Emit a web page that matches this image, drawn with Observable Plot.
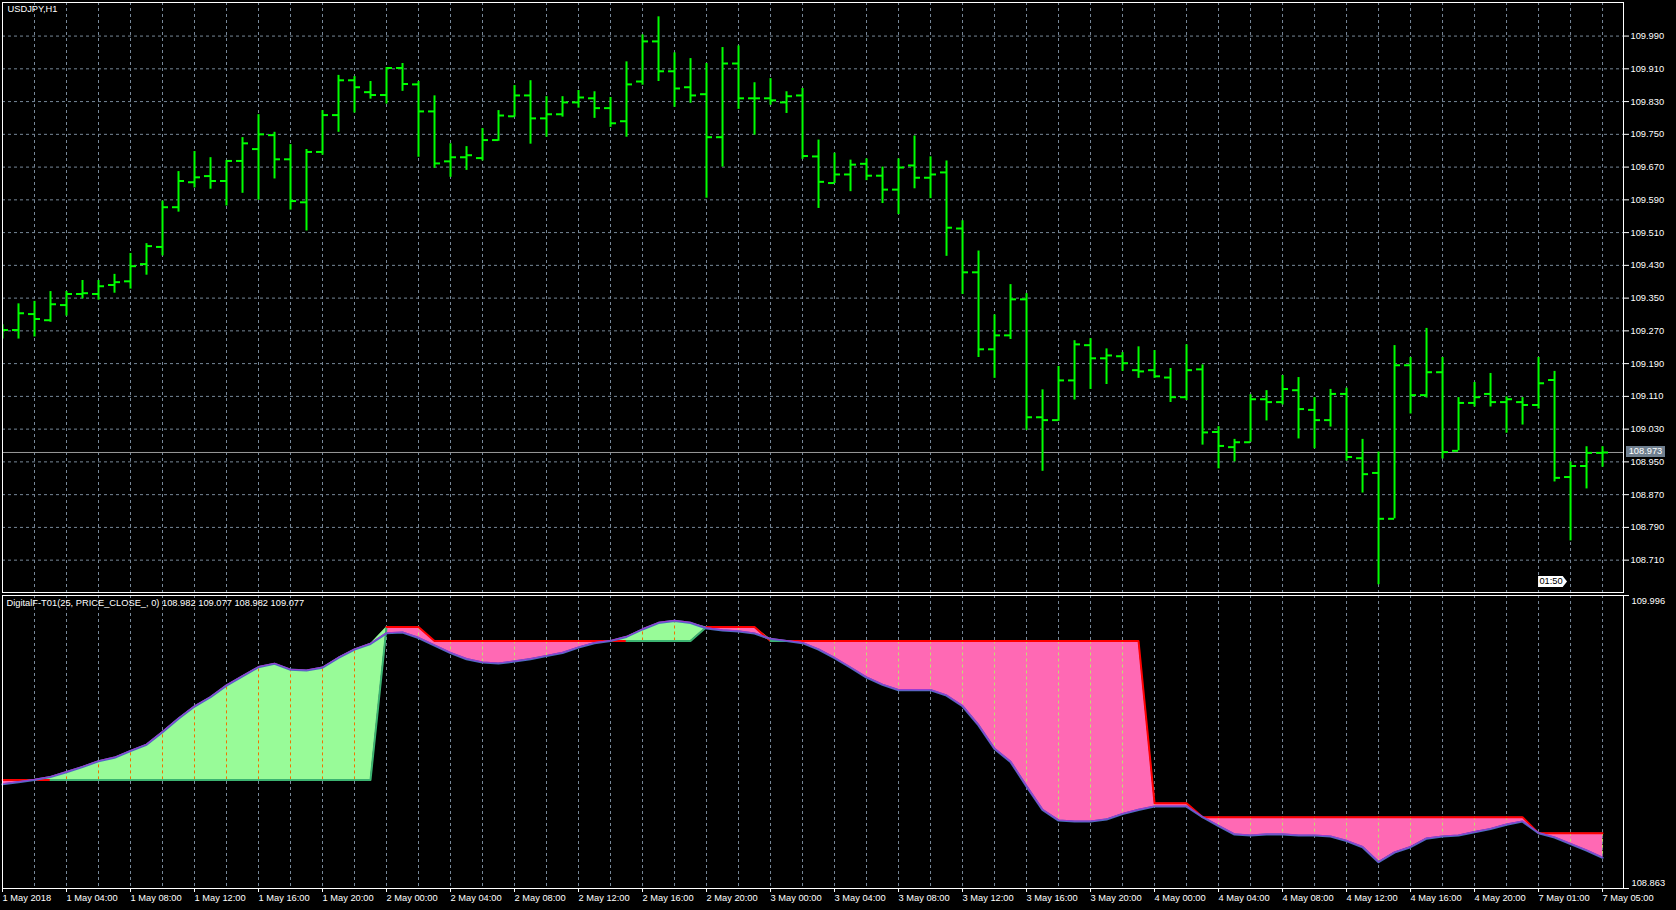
<!DOCTYPE html>
<html><head><meta charset="utf-8">
<script src="https://cdn.jsdelivr.net/npm/d3@7"></script>
<script src="https://cdn.jsdelivr.net/npm/@observablehq/plot@0.6"></script>
<style>
html,body{margin:0;padding:0;background:#000;}
#wrap{position:relative;width:1676px;height:910px;overflow:hidden;background:#000;font-family:"Liberation Sans",Arial,sans-serif;}
#wrap svg{position:absolute;left:0;overflow:visible;}
.tag{position:absolute;font-size:9.3px;line-height:11px;height:11px;white-space:pre;text-align:center;}
</style></head><body><div id="wrap"></div>
<script>
const symbolTitle = "USDJPY,H1";
const indicatorTitle = "DigitalF-T01(25, PRICE_CLOSE_, 0) 108.982 109.077 108.982 109.077";
const barOpen = [109.262,109.272,109.311,109.296,109.333,109.360,109.360,109.382,109.391,109.433,109.475,109.572,109.633,109.648,109.636,109.685,109.714,109.748,109.689,109.584,109.707,109.797,109.882,109.853,109.846,109.912,109.872,109.806,109.684,109.694,109.692,109.736,109.794,109.845,109.789,109.799,109.828,109.838,109.814,109.782,109.879,109.977,109.904,109.865,109.848,109.743,109.923,109.838,109.838,109.828,109.845,109.696,109.631,109.652,109.678,109.649,109.615,109.674,109.644,109.657,109.520,109.413,109.225,109.259,109.347,109.059,109.052,109.149,109.235,109.203,109.208,109.174,109.174,109.156,109.108,109.176,109.023,108.986,108.998,109.103,109.096,109.125,109.077,109.052,109.116,108.959,108.923,108.811,109.186,109.113,109.169,108.977,109.094,109.116,109.096,109.096,109.089,109.150,108.913,108.940,108.972];
const barHigh = [109.285,109.336,109.342,109.366,109.366,109.393,109.393,109.408,109.459,109.483,109.587,109.659,109.708,109.693,109.686,109.742,109.798,109.755,109.725,109.713,109.808,109.894,109.891,109.879,109.913,109.923,109.879,109.844,109.727,109.720,109.764,109.808,109.869,109.881,109.842,109.842,109.857,109.854,109.840,109.927,109.993,110.037,109.949,109.935,109.923,109.962,109.966,109.876,109.886,109.854,109.862,109.736,109.704,109.687,109.690,109.670,109.690,109.746,109.695,109.685,109.539,109.465,109.309,109.383,109.361,109.126,109.183,109.246,109.251,109.226,109.217,109.231,109.222,109.178,109.236,109.187,109.036,109.005,109.114,109.124,109.161,109.156,109.107,109.127,109.130,109.005,108.974,109.234,109.205,109.276,109.205,109.107,109.144,109.166,109.109,109.107,109.205,109.171,108.950,108.987,108.987];
const barLow = [109.250,109.250,109.255,109.291,109.306,109.348,109.345,109.362,109.372,109.406,109.453,109.560,109.619,109.616,109.575,109.606,109.589,109.641,109.565,109.514,109.699,109.755,109.802,109.836,109.824,109.855,109.694,109.667,109.645,109.662,109.685,109.733,109.792,109.726,109.743,109.792,109.814,109.789,109.767,109.743,109.870,109.879,109.816,109.826,109.594,109.670,109.811,109.748,109.821,109.801,109.689,109.569,109.630,109.610,109.637,109.581,109.554,109.617,109.593,109.452,109.359,109.205,109.154,109.249,109.027,108.927,109.049,109.101,109.127,109.139,109.171,109.154,109.154,109.095,109.100,108.991,108.933,108.950,108.998,109.050,109.089,109.006,108.982,109.035,108.952,108.874,108.650,108.811,109.067,109.106,108.957,108.977,109.084,109.084,109.020,109.040,109.079,108.901,108.757,108.884,108.937];
const barClose = [109.272,109.313,109.299,109.335,109.360,109.362,109.379,109.389,109.428,109.477,109.572,109.636,109.645,109.636,109.685,109.728,109.750,109.689,109.587,109.707,109.797,109.882,109.865,109.846,109.912,109.873,109.806,109.679,109.694,109.699,109.736,109.796,109.845,109.789,109.799,109.828,109.840,109.814,109.777,109.872,109.977,109.904,109.862,109.845,109.743,109.923,109.838,109.838,109.833,109.843,109.697,109.634,109.652,109.676,109.649,109.615,109.669,109.644,109.652,109.522,109.413,109.225,109.259,109.347,109.059,109.052,109.149,109.237,109.203,109.210,109.191,109.171,109.159,109.108,109.174,109.022,108.989,108.998,109.103,109.096,109.128,109.079,109.052,109.116,108.962,108.920,108.811,109.186,109.113,109.169,108.974,109.094,109.108,109.096,109.103,109.089,109.142,108.911,108.940,108.972,108.973];
const filterValues = [109.266,109.274,109.283,109.294,109.313,109.333,109.355,109.369,109.395,109.419,109.468,109.520,109.567,109.603,109.648,109.684,109.719,109.732,109.709,109.706,109.717,109.755,109.787,109.809,109.850,109.853,109.832,109.803,109.774,109.750,109.737,109.733,109.741,109.750,109.762,109.774,109.795,109.812,109.820,109.836,109.865,109.890,109.898,109.890,109.869,109.861,109.857,109.849,109.828,109.820,109.812,109.787,109.754,109.717,109.679,109.651,109.630,109.630,109.630,109.609,109.568,109.494,109.403,109.353,109.258,109.167,109.126,109.122,109.122,109.130,109.151,109.167,109.180,109.180,109.180,109.139,109.105,109.072,109.068,109.072,109.072,109.068,109.068,109.064,109.047,109.023,108.965,109.002,109.023,109.056,109.064,109.068,109.081,109.093,109.110,109.122,109.077,109.060,109.035,109.010,108.982];
const levelValues = [109.283,109.283,109.283,109.283,109.283,109.283,109.283,109.283,109.283,109.283,109.283,109.283,109.283,109.283,109.283,109.283,109.283,109.283,109.283,109.283,109.283,109.283,109.283,109.283,109.874,109.874,109.874,109.820,109.820,109.820,109.820,109.820,109.820,109.820,109.820,109.820,109.820,109.820,109.820,109.820,109.820,109.820,109.820,109.820,109.874,109.874,109.874,109.874,109.820,109.820,109.820,109.820,109.820,109.820,109.820,109.820,109.820,109.820,109.820,109.820,109.820,109.820,109.820,109.820,109.820,109.820,109.820,109.820,109.820,109.820,109.820,109.820,109.193,109.193,109.193,109.139,109.139,109.139,109.139,109.139,109.139,109.139,109.139,109.139,109.139,109.139,109.139,109.139,109.139,109.139,109.139,109.139,109.139,109.139,109.139,109.139,109.077,109.077,109.077,109.077,109.077];
const priceTicks = [109.990,109.910,109.830,109.750,109.670,109.590,109.510,109.430,109.350,109.270,109.190,109.110,109.030,108.950,108.870,108.790,108.710];
const indicatorTicks = [109.996,108.863];
const timeTickBars = [0,4,8,12,16,20,24,28,32,36,40,44,48,52,56,60,64,68,72,76,80,84,88,92,96,100];
const timeTickLabels = ["1 May 2018","1 May 04:00","1 May 08:00","1 May 12:00","1 May 16:00","1 May 20:00","2 May 00:00","2 May 04:00","2 May 08:00","2 May 12:00","2 May 16:00","2 May 20:00","3 May 00:00","3 May 04:00","3 May 08:00","3 May 12:00","3 May 16:00","3 May 20:00","4 May 00:00","4 May 04:00","4 May 08:00","4 May 12:00","4 May 16:00","4 May 20:00","7 May 01:00","7 May 05:00"];
const timerText = "01:50";

const N = barClose.length;
const bars = d3.range(N).map(i => ({i, o: barOpen[i], h: barHigh[i], l: barLow[i], c: barClose[i]}));
const ind = d3.range(N).map(i => ({i, f: filterValues[i], lv: levelValues[i]}));
const gridBars = d3.range(2, N, 2);
const lastClose = barClose[N - 1];
const xDomain = [0, N + 0.31];
const font = "'Liberation Sans', Arial, sans-serif";
const FS = 9.3;
const GRID = "#778899", DASH = "3,3", BAR = "#00ff00";
const UP = "#98fb98", DOWN = "#ff69b4";
const fmt = d3.format(".3f");
const labelOf = new Map(timeTickBars.map((b, k) => [b, timeTickLabels[k]]));
const wrap = document.getElementById("wrap");

const main = Plot.plot({
  width: 1676, height: 594, marginLeft: 2, marginRight: 53, marginTop: 2, marginBottom: 2,
  x: {domain: xDomain, axis: null, label: null},
  y: {domain: [108.631, 110.072], axis: null, label: null},
  style: {background: "transparent", color: "white", fontFamily: font, fontSize: FS + "px"},
  marks: [
    Plot.gridY(priceTicks, {stroke: GRID, strokeOpacity: 1, strokeDasharray: DASH}),
    Plot.gridX(gridBars, {stroke: GRID, strokeOpacity: 1, strokeDasharray: DASH}),
    Plot.ruleY([lastClose], {stroke: "#9a9a9a", strokeWidth: 1}),
    Plot.ruleX(bars, {x: "i", y1: "l", y2: "h", stroke: BAR, strokeWidth: 2, clip: true}),
    Plot.ruleY(bars, {y: "o", x1: d => d.i - 0.375, x2: "i", stroke: BAR, strokeWidth: 2, clip: true}),
    Plot.ruleY(bars, {y: "c", x1: "i", x2: d => d.i + 0.375, stroke: BAR, strokeWidth: 2, clip: true}),
    Plot.axisY(priceTicks, {anchor: "right", label: null, tickSize: 5, tickPadding: 2, tickFormat: fmt, stroke: "white", fill: "white", fontSize: FS}),
    Plot.frame({stroke: "white"}),
    Plot.text([symbolTitle], {frameAnchor: "top-left", dx: 5, dy: 3, textAnchor: "start", lineAnchor: "top", fill: "white", fontSize: FS})
  ]
});
main.style.top = "0px";
wrap.appendChild(main);

const sub = Plot.plot({
  width: 1676, height: 318, marginLeft: 2, marginRight: 53, marginTop: 3, marginBottom: 22,
  x: {domain: xDomain, axis: null, label: null},
  y: {domain: [108.863, 109.996], axis: null, label: null},
  style: {background: "transparent", color: "white", fontFamily: font, fontSize: FS + "px"},
  marks: [
    Plot.gridX(gridBars, {stroke: GRID, strokeOpacity: 1, strokeDasharray: DASH}),
    Plot.areaY(ind, {x: "i", y1: "lv", y2: d => Math.max(d.f, d.lv), fill: UP}),
    Plot.areaY(ind, {x: "i", y1: d => Math.min(d.f, d.lv), y2: "lv", fill: DOWN}),
    Plot.ruleX(ind.filter(d => d.i > 0 && d.i % 2 === 0 && Math.abs(d.f - d.lv) > 0.004), {x: "i", y1: "lv", y2: "f", stroke: d => d.f > d.lv ? "#ef7301" : "#c0e070", strokeDasharray: DASH}),
    Plot.line(ind, {x: "i", y: "lv", z: null, stroke: d => d.f > d.lv ? "#3cb371" : "#ff0000", strokeWidth: 2}),
    Plot.line(ind, {x: "i", y: "f", stroke: "#4a6fc0", strokeWidth: 2.2}),
    Plot.line(ind, {x: "i", y: "f", stroke: "#9a3cd0", strokeWidth: 1.1, dy: -0.5}),
    Plot.axisY(indicatorTicks, {anchor: "right", label: null, tickSize: 5, tickFormat: () => "", stroke: "white"}),
    Plot.text(indicatorTicks, {y: d => d, frameAnchor: "right", dx: 8, textAnchor: "start", lineAnchor: "middle", text: fmt, fill: "white", fontSize: FS}),
    Plot.axisX(timeTickBars, {anchor: "bottom", label: null, tickSize: 4, tickPadding: 2, tickFormat: b => labelOf.get(b), textAnchor: "start", dx: 0, stroke: "white", fill: "white", fontSize: FS}),
    Plot.frame({stroke: "white"}),
    Plot.text([indicatorTitle], {frameAnchor: "top-left", dx: 4, dy: 4, textAnchor: "start", lineAnchor: "top", fill: "white", fontSize: FS})
  ]
});
sub.style.top = "592px";
wrap.appendChild(sub);

// shift the two indicator scale labels inside the window like MT4 does
sub.querySelectorAll("text").forEach(t => {
  if (t.textContent === fmt(indicatorTicks[0])) t.setAttribute("dy", "6");
  if (t.textContent === fmt(indicatorTicks[1])) t.setAttribute("dy", "-5");
});

// current price tag and bar timer, positioned through the chart's scales
const ys = main.scale("y"), xs = main.scale("x");
const tag = document.createElement("div");
tag.className = "tag";
tag.textContent = fmt(lastClose);
Object.assign(tag.style, {left: (xs.apply(xDomain[1]) + 3) + "px", top: (ys.apply(lastClose) - 6) + "px", width: "39px", background: "#6f7f8f", color: "#ffffff"});
wrap.appendChild(tag);
const timer = document.createElement("div");
timer.className = "tag";
timer.textContent = timerText;
Object.assign(timer.style, {left: xs.apply(96) + "px", top: (ys.apply(ys.domain[0]) - 16) + "px", width: "26px", background: "#ffffff", color: "#000000", clipPath: "polygon(0 0, 85% 0, 100% 50%, 85% 100%, 0 100%)", paddingRight: "3px"});
wrap.appendChild(timer);
</script>
</body></html>
